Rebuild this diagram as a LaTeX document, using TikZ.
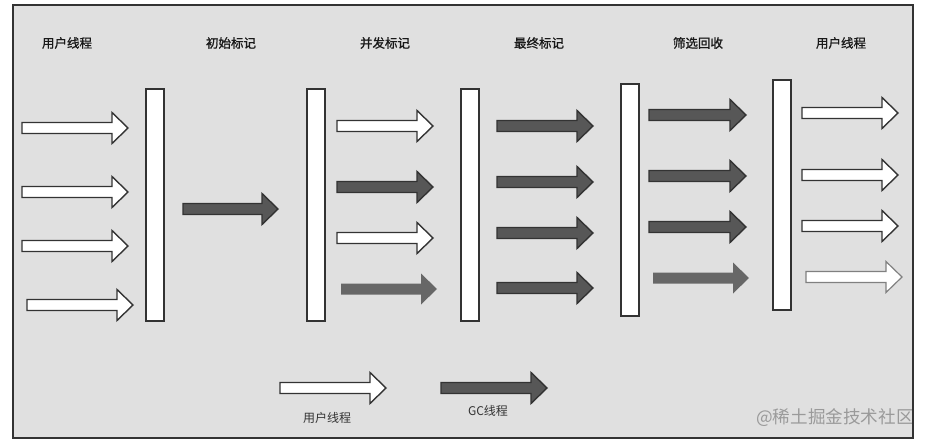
\documentclass[tikz,border=0pt]{standalone}
\usepackage{fontspec}
\newfontfamily\cjk{Noto Sans CJK SC}
\newfontfamily\cjkm{Noto Sans CJK SC}[FakeBold=1.2]
\definecolor{bgfill}{HTML}{E0E0E0}
\definecolor{edgec}{HTML}{333333}
\definecolor{gcfill}{HTML}{575757}
\definecolor{gclight}{HTML}{676767}
\definecolor{ulight}{HTML}{808080}
\definecolor{wmark}{HTML}{9A9A9A}
\tikzset{
  userarrow/.style={fill=white, draw=edgec, line width=1.4pt, line join=miter},
  userlight/.style={fill=white, draw=ulight, line width=1.2pt, line join=miter},
  gcarrow/.style={fill=gcfill, draw=edgec, line width=1.4pt, line join=miter},
  gclightarrow/.style={fill=gclight, draw=none},
  bar/.style={rectangle, fill=white, draw=edgec, line width=1.4pt, minimum width=18pt, inner sep=0pt},
  title/.style={text=black!90, font=\cjkm\fontsize{12.5}{15}\selectfont, inner sep=0pt},
  legend/.style={text=black!80, font=\cjk\fontsize{12}{14}\selectfont, inner sep=0pt},
  frameline/.style={draw=edgec, line width=2pt},
}
% #1 style, #2 start x, #3 tip x, #4 centre y
\newcommand{\blockarrow}[4]{%
  \path[#1] (#2,#4-5.5) -- (#3-16,#4-5.5) -- (#3-16,#4-15.5) -- (#3,#4)
    -- (#3-16,#4+15.5) -- (#3-16,#4+5.5) -- (#2,#4+5.5) -- cycle;}
\begin{document}
\begin{tikzpicture}[x=1pt, y=-1pt]
  \useasboundingbox (0,0) rectangle (930,444);
  \fill[white] (0,0) rectangle (930,444);
  \fill[bgfill] (13,5) rectangle (913,438);

  % titles
  \node[title] (t1) at (67,43) {用户线程};
  \node[title] (t2) at (231,43) {初始标记};
  \node[title] (t3) at (385,43) {并发标记};
  \node[title] (t4) at (539,43) {最终标记};
  \node[title] (t5) at (698,43) {筛选回收};
  \node[title] (t6) at (841,43) {用户线程};

  % bars
  \node[bar, minimum height=232pt] (b1) at (155,205) {};
  \node[bar, minimum height=232pt] (b2) at (316,205) {};
  \node[bar, minimum height=232pt] (b3) at (470,205) {};
  \node[bar, minimum height=232pt] (b4) at (630,200) {};
  \node[bar, minimum height=230pt] (b5) at (782,195) {};

  % user threads
  \blockarrow{userarrow}{22}{128}{128}
  \blockarrow{userarrow}{22}{128}{192}
  \blockarrow{userarrow}{22}{128}{246}
  \blockarrow{userarrow}{27}{133}{305}

  % initial mark
  \blockarrow{gcarrow}{183}{278}{209}

  % concurrent mark
  \blockarrow{userarrow}{337}{433}{126}
  \blockarrow{gcarrow}{337}{433}{187}
  \blockarrow{userarrow}{337}{433}{238}
  \blockarrow{gclightarrow}{341}{437}{289}

  % final mark
  \blockarrow{gcarrow}{497}{593}{126}
  \blockarrow{gcarrow}{497}{593}{182}
  \blockarrow{gcarrow}{497}{593}{233}
  \blockarrow{gcarrow}{497}{593}{288}

  % cleanup
  \blockarrow{gcarrow}{649}{746}{115}
  \blockarrow{gcarrow}{649}{746}{176}
  \blockarrow{gcarrow}{649}{746}{227}
  \blockarrow{gclightarrow}{653}{749}{278}

  % user threads again
  \blockarrow{userarrow}{802}{898}{113}
  \blockarrow{userarrow}{802}{898}{175}
  \blockarrow{userarrow}{802}{898}{226}
  \blockarrow{userlight}{806}{902}{277}

  % legend
  \blockarrow{userarrow}{280}{386}{388}
  \blockarrow{gcarrow}{441}{547}{388}
  \node[legend] (l1) at (327,418) {用户线程};
  \node[legend] (l2) at (488,411) {GC线程};

  % watermark
  \node[text=wmark, font=\cjk\fontsize{17.6}{20}\selectfont, inner sep=0pt] (wm) at (835,418) {@稀土掘金技术社区};

  % frame border on top
  \path[frameline] (13,5) rectangle (913,438);
\end{tikzpicture}
\end{document}
